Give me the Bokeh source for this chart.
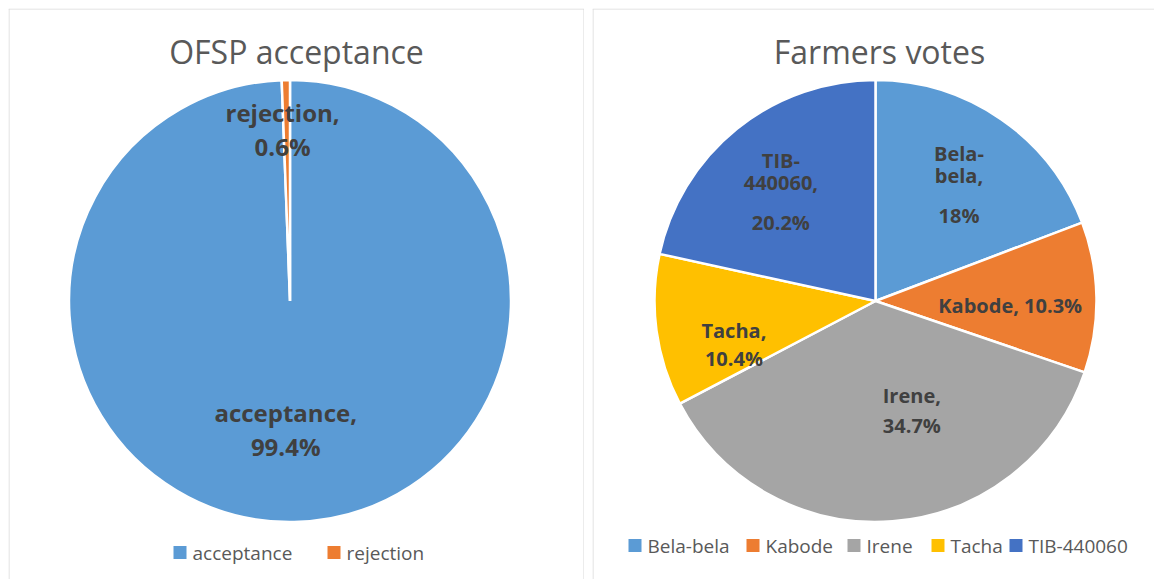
import math
from bokeh.plotting import figure
from bokeh.layouts import row
from bokeh.models import Range1d, ColumnDataSource
from bokeh.embed import file_html
from bokeh.resources import INLINE
from bokeh.core.properties import value

# ---------------- data ----------------
accept_title = "OFSP acceptance"
accept_cats = ["acceptance", "rejection"]
accept_vals = [99.4, 0.6]
accept_colors = ["#5B9BD5", "#ED7D31"]

vote_title = "Farmers votes"
vote_cats = ["Bela-bela", "Kabode", "Irene", "Tacha", "TIB-440060"]
vote_vals = [18, 10.3, 34.7, 10.4, 20.2]
vote_colors = ["#5B9BD5", "#ED7D31", "#A5A5A5", "#FFC000", "#4472C4"]

# label line breaks (how the text wraps in the reference)
accept_label_lines = [["acceptance,", "99.4%"], ["rejection,", "0.6%"]]
vote_label_lines = [["Bela-", "bela,", "18%"], ["Kabode, 10.3%"], ["Irene,", "34.7%"],
                    ["Tacha,", "10.4%"], ["TIB-", "440060,", "20.2%"]]

# ---------------- layout ----------------
H = 571
W1, W2 = 576, 562
FONT = "Open Sans"
LABEL_COLOR = "#404040"
TITLE_COLOR = "#595959"
BORDER = "#D9D9D9"


def make_fig(w, sides):
    p = figure(width=w, height=H, output_backend="svg", toolbar_location=None,
               x_range=Range1d(0, w), y_range=Range1d(0, H), min_border=0)
    p.axis.visible = False
    p.xgrid.visible = False
    p.ygrid.visible = False
    p.outline_line_color = None
    p.background_fill_color = "white"
    p.border_fill_color = "white"
    # panel frame (the bottom / far-right edges fall outside the window in the reference)
    xs, ys = [], []
    if "left" in sides:
        xs.append([0.5, 0.5]); ys.append([0, H - 0.5])
    if "top" in sides:
        xs.append([0, w]); ys.append([H - 0.5, H - 0.5])
    if "right" in sides:
        xs.append([w - 0.5, w - 0.5]); ys.append([0, H - 0.5])
    p.multi_line(xs=xs, ys=ys, line_color=BORDER, line_width=1)
    return p


def draw_pie(p, vals, colors, cx, cy, R):
    total = sum(vals)
    starts, ends, mids = [], [], []
    c = 0.0
    for v in vals:
        c0 = c
        c += v / total
        starts.append(math.pi / 2 - 2 * math.pi * c)
        ends.append(math.pi / 2 - 2 * math.pi * c0)
        mids.append(360.0 * (c0 + c) / 2)  # clockwise from 12 o'clock, degrees
    src = ColumnDataSource(dict(start=starts, end=ends, color=colors))
    p.wedge(x=cx, y=cy, radius=R, radius_units="screen", start_angle="start",
            end_angle="end", direction="anticlock", fill_color="color",
            line_color="white", line_width=2.5, source=src)
    return mids


def draw_labels(p, cx, cy, R, mids, shifts, rfracs, lines_list, offsets_list, size):
    xs, ys, ts = [], [], []
    for m, s, rf, lines, offs in zip(mids, shifts, rfracs, lines_list, offsets_list):
        a = math.radians(m + s)
        bx = cx + rf * R * math.sin(a)
        by = cy + rf * R * math.cos(a)
        for t, o in zip(lines, offs):
            xs.append(bx)
            ys.append(by - o)
            ts.append(t)
    p.text(x=xs, y=ys, text=ts, text_font=value(FONT), text_font_style="bold",
           text_font_size=size, text_color=LABEL_COLOR, text_align="center",
           text_baseline="middle")


def draw_title(p, x, y, t):
    p.text(x=[x], y=[y], text=[t], text_font=value(FONT), text_font_size="32px",
           text_color=TITLE_COLOR, text_align="center", text_baseline="middle")


def draw_legend(p, cats, colors, lefts, y):
    p.rect(x=[l + 6.5 for l in lefts], y=[y] * len(lefts), width=13, height=13,
           width_units="screen", height_units="screen", fill_color=colors, line_color=None)
    p.text(x=[l + 19 for l in lefts], y=[y] * len(lefts), text=cats, text_font=value(FONT),
           text_font_size="19px", text_color=TITLE_COLOR, text_align="left",
           text_baseline="middle")


# ---------------- left chart ----------------
p1 = make_fig(W1, ("left", "top", "right"))
cx1, cy1, R1 = 281.5, 278.5, 221
mids1 = draw_pie(p1, accept_vals, accept_colors, cx1, cy1, R1)
draw_labels(p1, cx1, cy1, R1, mids1, [3.0, -1.4], [0.58, 0.777],
            accept_label_lines, [[-17, 17], [-17, 17]], "24px")
draw_title(p1, 288, 528, accept_title)
draw_legend(p1, accept_cats, accept_colors, [165, 319], 27)

# ---------------- right chart ----------------
p2 = make_fig(W2, ("left", "top"))
cx2, cy2, R2 = 283, 278.5, 221
mids2 = draw_pie(p2, vote_vals, vote_colors, cx2, cy2, R2)
draw_labels(p2, cx2, cy2, R2, mids2, [0.9, 2.9, -14.0, -9.3, -1.9],
            [0.65, 0.61, 0.52, 0.67, 0.656], vote_label_lines,
            [[-31, -9, 31], [0], [-15, 15], [-14, 14], [-31, -8, 31]], "20px")
draw_title(p2, 287, 528, vote_title)
draw_legend(p2, vote_cats, vote_colors, [36, 154, 255, 339, 417], 34)

layout = row(p1, p2, spacing=8, margin=(8, 0, 0, 8))
open("out.html", "w").write(file_html(layout, INLINE))
